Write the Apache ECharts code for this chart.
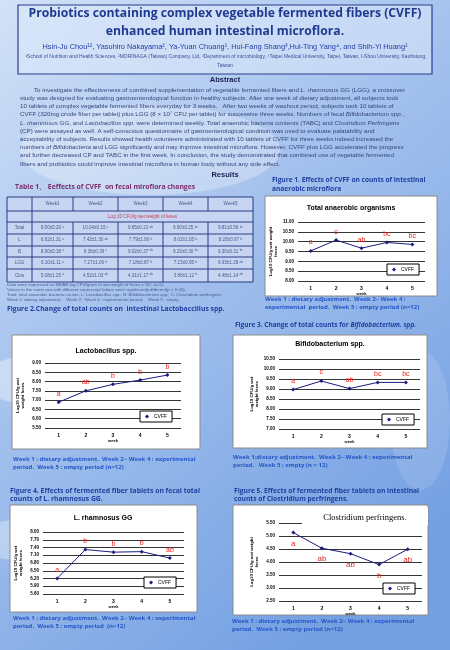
<!DOCTYPE html>
<html><head><meta charset="utf-8">
<script src="https://cdn.jsdelivr.net/npm/echarts@6/dist/echarts.min.js"></script>
<style>html,body{margin:0;padding:0;width:450px;height:650px;overflow:hidden}#c{width:450px;height:650px}</style>
</head><body><div id="c"></div>
<script>
// ---------- data ----------
const weeks = ['1', '2', '3', '4', '5'];
const totalValues = [9.53, 10.08, 9.67, 9.96, 9.86];
const lactoValues = [6.89, 7.50, 7.85, 8.08, 8.35];
const bifidoValues = [8.97, 9.40, 9.02, 9.33, 9.33];
const lggValues = [6.20, 7.32, 7.22, 7.24, 6.99];
const closValues = [5.13, 4.53, 4.32, 3.90, 4.49];

const totalSig = ['a', 'c', 'ab', 'bc', 'bc'];
const lactoSig = ['a', 'ab', 'b', 'b', 'b'];
const bifidoSig = ['a', 'c', 'ab', 'bc', 'bc'];
const lggSig = ['a', 'b', 'b', 'b', 'ab'];
const closSig = ['a', 'ab', 'ab', 'b', 'ab'];

const tableHeader = ['Week1', 'Week2', 'Week3', 'Week4', 'Week5'];
const tableRowNames = ['Total', 'L', 'B', 'LGG', 'Clos'];
const tableTotal = ['9.50±0.20', '10.04±0.15', '9.65±0.21', '9.90±0.25', '9.81±0.56'];
const tableL = ['6.82±1.31', '7.42±1.30', '7.79±1.06', '8.02±1.05', '8.28±0.87'];
const tableB = ['8.90±0.38', '9.36±0.39', '9.02±0.37', '9.29±0.30', '9.30±0.31'];
const tableLGG = ['6.10±1.11', '7.27±1.06', '7.18±0.87', '7.15±0.95', '6.93±1.26'];
const tableClos = ['5.08±1.25', '4.52±1.03', '4.31±1.17', '3.88±1.12', '4.48±1.14'];

// ---------- helpers ----------
const G = [];
function T(x, y, text, o) {
  o = o || {};
  const st = {
    text: text, fill: o.fill || '#000',
    fontSize: o.size || 6, fontFamily: o.family || 'Liberation Sans',
    fontWeight: o.weight || 'normal', fontStyle: o.style || 'normal',
    textAlign: o.align || 'left', align: o.align || 'left',
    textVerticalAlign: o.va || 'middle', verticalAlign: o.va || 'middle'
  };
  if (o.rich) st.rich = o.rich;
  G.push({ type: 'text', x: x, y: y, z: o.z || 50, silent: true, style: st });
}
function R(x, y, w, h, fill, stroke, lw, z) {
  G.push({ type: 'rect', z: z || 0, silent: true, shape: { x: x, y: y, width: w, height: h },
    style: { fill: fill, stroke: stroke || null, lineWidth: lw || 0 } });
}
function E(cx, cy, rx, ry, fill, blur) {
  G.push({ type: 'ellipse', z: -5, silent: true, shape: { cx: cx, cy: cy, rx: rx, ry: ry },
    style: { fill: fill, shadowBlur: blur || 0, shadowColor: fill } });
}

// background clouds
E(40, 380, 60, 25, 'rgba(255,255,255,0.35)', 30);
E(20, 540, 50, 20, 'rgba(255,255,255,0.3)', 30);
E(150, 150, 130, 45, 'rgba(255,255,255,0.28)', 40);
E(330, 560, 80, 25, 'rgba(255,255,255,0.15)', 30);
E(420, 420, 30, 70, 'rgba(255,255,255,0.12)', 30);

// ---------- header ----------
R(18, 5, 414, 69, 'rgba(222,233,250,0.55)', '#2b3e8c', 1.2, 1);
const titleC = '#1f3a8f';
T(225, 14, 'Probiotics containing complex vegetable fermented fibers (CVFF)', { size: 12.2, weight: 'bold', family: 'Open Sans', fill: titleC, align: 'center' });
T(225, 32, 'enhanced human intestinal microflora.', { size: 12.2, weight: 'bold', family: 'Open Sans', fill: titleC, align: 'center' });
T(225, 47, '{u|Hsin-Ju Chou¹²}, Yasuhiro Nakayama², Ya-Yuan Chuang¹, Hui-Fang Shang³,Hui-Ting Yang⁴, and Shih-Yi Huang¹', { size: 7.4, fill: '#2340a8', align: 'center', rich: { u: { fontSize: 7.4, fill: '#2340a8', textDecoration: 'underline' } } });
T(226, 57, '¹School of Nutrition and Health Sciences, ²MORINAGA (Taiwan) Company, Ltd, ³Department of microbiology, ⁴Taipei Medical University, Taipei, Taiwan, I-Shou University, Kaohsiung,', { size: 5, fill: '#3a4f9a', align: 'center' });
T(225, 66, 'Taiwan', { size: 5, fill: '#3a4f9a', align: 'center' });

// ---------- abstract ----------
T(225, 80, 'Abstract', { size: 7.5, weight: 'bold', fill: '#1a1f50', align: 'center' });
const absLines = [
  '        To investigate the effectiveness of combined supplementation of vegetable fermented fibers and {i|L. rhamnosus} GG (LGG), a crossover',
  'study was designed for evaluating gastroenterological function in healthy subjects. After one week of dietary adjustment, all subjects took',
  '10 tablets of complex vegetable fermented fibers everyday for 3 weeks.   After two weeks of washout period, subjects took 10 tablets of',
  'CVFF (320mg crude fiber per tablet) plus LGG (8 × 10⁷ CFU per tablet) for successive three weeks. Numbers of fecal {i|Bifidobacterium spp.},',
  '{i|L. rhamnosus} GG, and {i|Lactobacillus spp.} were determined weekly. Total anaerobic bacteria contents (TABC) and {i|Clostridium Perfringens}',
  '(CP) were assayed as well. A self-conscious questionnaire of gastroenterological condition was used to evaluate palatability and',
  'acceptability of subjects. Results showed health volunteers administrated with 10 tablets of CVFF for three weeks indeed increased the',
  'numbers of {i|Bifidobacteria} and LGG significantly and may improve intestinal microflora. However, CVFF plus LGG accelerated the progress',
  'and further decreased CP and TABC in the first week. In conclusion, the study demonstrated that combined use of vegetable fermented',
  'fibers and probiotics could improve intestinal microflora in human body without any side effect.'
];
const absC = '#36467a';
absLines.forEach(function (l, i) {
  T(20, 90 + i * 8.2, l, { size: 6.25, fill: absC, rich: { i: { fontSize: 6.25, fill: absC, fontStyle: 'italic', fontFamily: 'Liberation Sans' } } });
});

T(225, 175, 'Results', { size: 7.5, weight: 'bold', fill: '#1a1f50', align: 'center' });
T(15, 187, 'Table 1、 Eeffects of CVFF  on fecal miroflora changes', { size: 6.8, weight: 'bold', fill: '#7a2e6e', family: 'Open Sans' });
const figC = '#1f3f9f';
T(272, 180, 'Figure 1. Effects of CVFF on counts of intestinal', { size: 6.6, weight: 'bold', fill: figC, family: 'Open Sans' });
T(272, 189, 'anaerobic microflora', { size: 6.6, weight: 'bold', fill: figC, family: 'Open Sans' });

// ---------- table ----------
const colX = [7, 32, 73, 118, 163, 208, 253];
const rowY = [197, 211, 222, 234, 246, 257, 269, 282];
const cellFill = '#c7d5f3', tb = '#1c2b78', tc = '#4a5a8a';
R(colX[0], rowY[0], colX[6] - colX[0], rowY[7] - rowY[0], cellFill, null, 0, 1);
for (let r = 0; r < rowY.length; r++) {
  G.push({ type: 'line', z: 2, silent: true, shape: { x1: colX[0], y1: rowY[r], x2: colX[6], y2: rowY[r] }, style: { stroke: tb, lineWidth: 0.9 } });
}
for (let c = 0; c < colX.length; c++) {
  if (c >= 2 && c <= 5) {
    G.push({ type: 'line', z: 2, silent: true, shape: { x1: colX[c], y1: rowY[0], x2: colX[c], y2: rowY[1] }, style: { stroke: tb, lineWidth: 0.9 } });
    G.push({ type: 'line', z: 2, silent: true, shape: { x1: colX[c], y1: rowY[2], x2: colX[c], y2: rowY[7] }, style: { stroke: tb, lineWidth: 0.9 } });
  } else {
    G.push({ type: 'line', z: 2, silent: true, shape: { x1: colX[c], y1: rowY[0], x2: colX[c], y2: rowY[7] }, style: { stroke: tb, lineWidth: 0.9 } });
  }
}
tableHeader.forEach(function (h, i) { T((colX[i + 1] + colX[i + 2]) / 2, (rowY[0] + rowY[1]) / 2, h, { size: 4.6, fill: tc, align: 'center' }); });
T((colX[1] + colX[6]) / 2, (rowY[1] + rowY[2]) / 2, 'Log 10 CFU/g wet weight of feces', { size: 4.6, fill: '#c0405a', align: 'center' });
const tableData = [[tableTotal, totalSig], [tableL, lactoSig], [tableB, bifidoSig], [tableLGG, lggSig], [tableClos, closSig]];
tableRowNames.forEach(function (n, r) {
  const cy = (rowY[r + 2] + rowY[r + 3]) / 2;
  T((colX[0] + colX[1]) / 2, cy, n, { size: 4.6, fill: tc, align: 'center' });
  tableData[r][0].forEach(function (v, c) {
    T((colX[c + 1] + colX[c + 2]) / 2, cy, v + ' {s|' + tableData[r][1][c] + '}', { size: 4.6, fill: tc, align: 'center', rich: { s: { fontSize: 3.2, fill: tc, verticalAlign: 'top' } } });
  });
});
const fnC = '#4a5a8a';
T(7, 285, 'Data were expressed as MEAN log CFU/gram of wet weight of feces ± SD, n=12.', { size: 4.4, fill: fnC });
T(7, 290, 'Values in the same row with different superscript letters were significantly different(p < 0.05).', { size: 4.4, fill: fnC });
T(7, 294.5, 'Total: total anaerobic bacteria counts; L: Lactobacillus spp.; B: Bifidobacterium spp.; C: Clostridium perfringens', { size: 4.4, fill: fnC });
T(7, 300, 'Week 1: dietary adjustment;    Week 2~ Week 4 : experimental period;    Week 5 : empty', { size: 4.4, fill: fnC });

// ---------- figure titles & captions ----------
T(7, 309, 'Figure 2.Change of total counts on  intestinal Lactobaccillus spp.', { size: 6.8, weight: 'bold', fill: figC, family: 'Open Sans' });
T(235, 325, 'Figure 3. Change of total counts for {i|Bifidobacterium. spp.}', { size: 6.5, weight: 'bold', fill: figC, family: 'Open Sans', rich: { i: { fontSize: 6.5, fontWeight: 'bold', fontStyle: 'italic', fill: figC, fontFamily: 'Open Sans' } } });
T(10, 491, 'Figure 4. Effects of fermented fiber tablets on fecal total', { size: 6.8, weight: 'bold', fill: figC, family: 'Open Sans' });
T(10, 499, 'counts of L. rhamnosus GG.', { size: 6.8, weight: 'bold', fill: figC, family: 'Open Sans' });
T(234, 491, 'Figure 5. Effects of fermented fiber tablets on intestinal', { size: 6.7, weight: 'bold', fill: figC, family: 'Open Sans' });
T(234, 499, 'counts of Clostridium perfringens.', { size: 6.7, weight: 'bold', fill: figC, family: 'Open Sans' });
const capC = '#2456c8';
function cap(x, y, a, b) { T(x, y, a, { size: 6, weight: 'bold', fill: capC, family: 'Open Sans' }); T(x, y + 8, b, { size: 6, weight: 'bold', fill: capC, family: 'Open Sans' }); }
cap(265, 299, 'Week 1 : dietary adjustment.  Week 2~ Week 4 :', 'experimental  period.  Week 5 : empty period (n=12)');
cap(13, 459, 'Week 1 : dietary adjustment.  Week 2~ Week 4 : experimental', 'period.  Week 5 : empty period (n=12)');
cap(233, 457, 'Week 1:dietary adjustment.  Week 2~ Week 4 : experimental', 'period.   Week 5 : empty (n = 12)');
cap(13, 618, 'Week 1 : dietary adjustment.  Week 2~ Week 4 : experimental', 'period.  Week 5 : empty period  (n=12)');
cap(232, 621, 'Week 1 : dietary adjustment.  Week 2~ Week 4 : experimental', 'period.  Week 5 : empty period (n=12)');

// ---------- charts ----------
const charts = [
  { values: totalValues, sig: totalSig, box: [265, 196, 172, 100], title: 'Total anaerobic organisms', tx: 351, ty: 208,
    grid: [298, 222, 127, 59], min: 8, max: 11, interval: 0.5, yName: 'Log10 CFU/g wet weight\nfeces', legend: [387, 264], lpos: 'top' },
  { values: lactoValues, sig: lactoSig, box: [12, 335, 188, 114], title: 'Lactobacillus spp.', tx: 106, ty: 351,
    grid: [45, 363, 136, 65], min: 5.5, max: 9, interval: 0.5, yName: 'Log10 CFU/g wet\nweight feces', legend: [140, 411], lpos: 'top' },
  { values: bifidoValues, sig: bifidoSig, box: [233, 335, 194, 113], title: 'Bifidobacterium spp.', tx: 330, ty: 344,
    grid: [279, 359, 141, 70], min: 7, max: 10.5, interval: 0.5, yName: 'Log10 CFU/g wet\nweight feces', legend: [382, 414], lpos: 'top' },
  { values: lggValues, sig: lggSig, box: [10, 505, 187, 107], title: 'L. rhamnosus GG', tx: 103, ty: 518,
    grid: [43, 532, 141, 62], min: 5.6, max: 8.0, interval: 0.3, yName: 'Log10 CFU/g wet\nweight feces', legend: [144, 577], lpos: 'top' },
  { values: closValues, sig: closSig, box: [233, 505, 195, 110], title: 'Clostridium perfringens.', tx: 365, ty: 518,
    grid: [279, 523, 143, 78], min: 2.5, max: 5.5, interval: 0.5, yName: 'Log10 CFU/g wet weight\nfeces', legend: [383, 583], lpos: 'bottom', serif: true }
];

const grids = [], xAxes = [], yAxes = [], series = [], legends = [];
charts.forEach(function (ch, i) {
  R(ch.box[0], ch.box[1], ch.box[2], ch.box[3], '#ffffff', '#8a8a8a', 1, 0);
  if (ch.serif) {
    R(302, 508, 126, 17, '#ffffff', null, 0, 60);
    T(ch.tx, ch.ty, ch.title, { size: 8.5, family: 'Liberation Serif', fill: '#000', align: 'center', z: 70 });
  } else {
    T(ch.tx, ch.ty, ch.title, { size: 7, weight: 'bold', family: 'Liberation Sans', fill: '#000', align: 'center', z: 70 });
  }
  grids.push({ left: ch.grid[0], top: ch.grid[1], width: ch.grid[2], height: ch.grid[3], show: true,
    backgroundColor: '#c0c0c0', borderColor: '#808080', borderWidth: 1 });
  xAxes.push({ type: 'category', gridIndex: i, data: weeks, boundaryGap: true,
    axisLine: { show: false }, axisTick: { show: false }, splitLine: { show: false },
    axisLabel: { fontSize: 5, fontWeight: 'bold', color: '#000', margin: 5 },
    name: 'week', nameLocation: 'middle', nameGap: 11, nameTextStyle: { fontSize: 4, fontWeight: 'bold', color: '#000' } });
  yAxes.push({ type: 'value', gridIndex: i, min: ch.min, max: ch.max, interval: ch.interval,
    axisLine: { show: false }, axisTick: { show: false },
    splitLine: { show: true, lineStyle: { color: '#000', width: 0.8 } },
    axisLabel: { fontSize: 4.5, fontWeight: 'bold', color: '#000', margin: 4, formatter: function (v) { return v.toFixed(2); } },
    name: ch.yName, nameLocation: 'middle', nameRotate: 90, nameGap: 20,
    nameTextStyle: { fontSize: 4.3, fontWeight: 'bold', color: '#000', lineHeight: 5 } });
  series.push({ type: 'line', name: 'CVFF', xAxisIndex: i, yAxisIndex: i, data: ch.values,
    symbol: 'diamond', symbolSize: 4, color: '#1a1a80', lineStyle: { color: '#1a1a80', width: 1 },
    label: { show: true, position: ch.lpos, distance: ch.lpos === 'top' ? 3 : 5, color: '#e8231e', fontSize: ch.serif ? 8 : 7,
      fontFamily: 'Liberation Sans', formatter: function (p) { return ch.sig[p.dataIndex]; } } });
  legends.push({ left: ch.legend[0], top: ch.legend[1], data: ['CVFF'], backgroundColor: '#fff', borderColor: '#000', borderWidth: 1,
    padding: [3, 5], icon: 'diamond', itemWidth: 4, itemHeight: 4, itemGap: 2, selectedMode: false,
    textStyle: { fontSize: 5, color: '#000' } });
});

const chart = echarts.init(document.getElementById('c'), null, { renderer: 'canvas', width: 450, height: 650 });
chart.setOption({
  animation: false,
  backgroundColor: { type: 'linear', x: 0, y: 0, x2: 1, y2: 0.8,
    colorStops: [{ offset: 0, color: '#d2e2f7' }, { offset: 0.4, color: '#a9c5ef' }, { offset: 1, color: '#74a0e2' }] },
  grid: grids, xAxis: xAxes, yAxis: yAxes, series: series, legend: legends,
  graphic: { elements: G }
});
</script></body></html>
